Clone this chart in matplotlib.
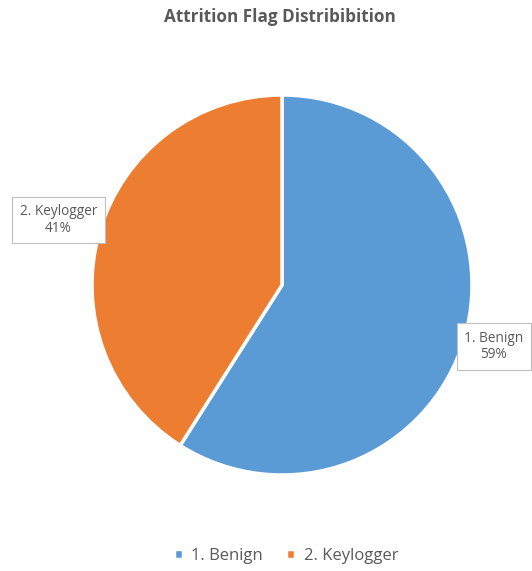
import numpy as np
import matplotlib.pyplot as plt

plt.rcParams['font.family'] = ['Open Sans', 'DejaVu Sans']

# chart data
labels = ['1. Benign', '2. Keylogger']
shares = [59, 41]
colors = ['#5B9BD5', '#ED7D31']
title = 'Attrition Flag Distribibition'
text_grey = '#595959'

fig = plt.figure(figsize=(5.32, 5.71), dpi=100)
W, H = 532, 571
cx, cy, r = 282, 285, 190
ax = fig.add_axes([(cx - r) / W, (H - cy - r) / H, 2 * r / W, 2 * r / H])

wedges, _ = ax.pie(shares, colors=colors, startangle=90, counterclock=False,
                   radius=1, wedgeprops=dict(edgecolor='white', linewidth=2.5))
ax.set_xlim(-1, 1)
ax.set_ylim(-1, 1)
ax.set_aspect('equal')

# data labels in boxes just outside each slice
dists = [1.16, 1.225]
for w, lab, s, d in zip(wedges, labels, shares, dists):
    mid = np.deg2rad((w.theta1 + w.theta2) / 2)
    x, y = d * np.cos(mid), d * np.sin(mid)
    ax.text(x, y, f'{lab}\n{s}%', ha='center', va='center', fontsize=9.8,
            color=text_grey, linespacing=1.15, clip_on=False,
            bbox=dict(boxstyle='square,pad=0.55', fc='white', ec='#BFBFBF', lw=0.8))

fig.text(280 / W, 1 - 17 / H, title, ha='center', va='center',
         fontsize=12.3, fontweight='bold', color=text_grey)

fig.legend(wedges, labels, loc='center', bbox_to_anchor=(286 / W, 1 - 556 / H),
           ncol=2, frameon=False, fontsize=12, labelcolor=text_grey,
           handlelength=0.55, handleheight=0.55, handletextpad=0.5, columnspacing=1.4)

plt.savefig('out.png', dpi=100)
